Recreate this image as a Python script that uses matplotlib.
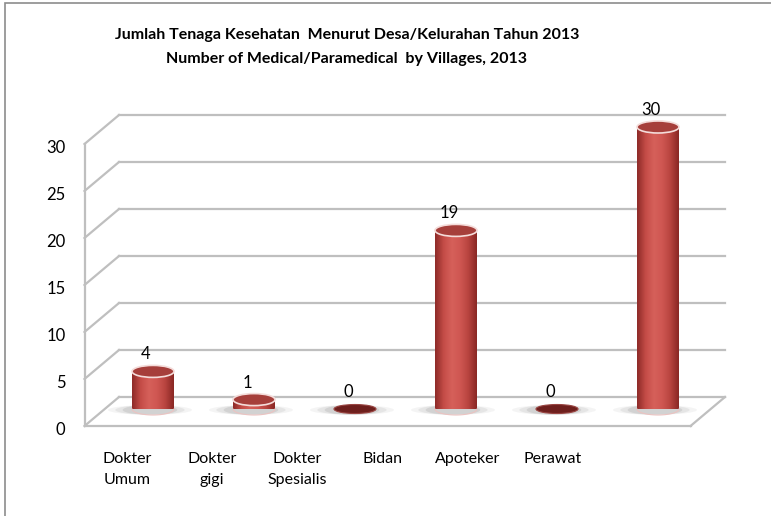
import numpy as np
import matplotlib
matplotlib.use("Agg")
import matplotlib.pyplot as plt
from matplotlib.patches import Ellipse, Polygon, Rectangle
from matplotlib.colors import LinearSegmentedColormap

# ===== DATA =====
categories = ["Dokter\nUmum", "Dokter\ngigi", "Dokter\nSpesialis", "Bidan", "Apoteker", "Perawat"]
values = [4, 1, 0, 19, 0, 30]
y_ticks = [0, 5, 10, 15, 20, 25, 30]
title_1 = "Jumlah Tenaga Kesehatan  Menurut Desa/Kelurahan Tahun 2013"
title_2 = "Number of Medical/Paramedical  by Villages, 2013"

plt.rcParams['font.family'] = ['Lato', 'DejaVu Sans']

W, H = 771, 516
fig = plt.figure(figsize=(W / 100, H / 100), dpi=100)

# the axes is the plane the cylinders stand in (middle of the 3D box)
ax = fig.add_axes([102.5 / W, (H - 409) / H, 606 / W, 282 / H])
ax.axis('off')

px_x = 606 / 6    # pixels per category
px_y = 282 / 30   # pixels per value unit

# depth offsets of back wall / front edge, in data units
bdx, bdy = 16.5 / px_x, 12 / px_y
fdx, fdy = -18.0 / px_x, -17 / px_y
grid_c = '#BFBFBF'
x0, x1 = -0.5, len(values) - 0.5

# ===== WALLS / GRID =====
for v in y_ticks:
    ax.plot([x0 + bdx, x1 + bdx], [v + bdy] * 2, color=grid_c, lw=1.6, clip_on=False, zorder=1)
    ax.plot([x0 + fdx, x0 + bdx], [v + fdy, v + bdy], color=grid_c, lw=1.6, clip_on=False, zorder=1)
    ax.annotate(str(v), xy=(x0 + fdx, v + fdy), xytext=(-19, -4), textcoords='offset pixels',
                ha='right', va='center', fontsize=12, color='black', annotation_clip=False)

# front axis line + floor edges
ax.plot([x0 + fdx] * 2, [fdy, y_ticks[-1] + fdy], color=grid_c, lw=1.6, clip_on=False, zorder=1)
ax.plot([x0 + fdx, x1 + fdx], [fdy] * 2, color=grid_c, lw=1.6, clip_on=False, zorder=1)
ax.plot([x1 + fdx, x1 + bdx], [fdy, bdy], color=grid_c, lw=1.6, clip_on=False, zorder=1)

# ===== CYLINDERS =====
w = 42 / px_x
eh = 12 / px_y
cmap = LinearSegmentedColormap.from_list(
    'cyl', ['#8E2B28', '#C44C47', '#D6605A', '#CF5752', '#B8443F', '#8A2724'])
grad = np.linspace(0, 1, 64)[None, :]
t = np.linspace(np.pi, 2 * np.pi, 40)

for i, v in enumerate(values):
    # soft shadow on the floor
    for k, a in [(2.0, 0.08), (1.65, 0.12), (1.3, 0.18)]:
        ax.add_patch(Ellipse((i - 0.03, -0.1), w * k, eh * 0.8, facecolor='#7F7F7F',
                             edgecolor='none', alpha=a, clip_on=False, zorder=2))
    if v > 0:
        xs = np.concatenate([[i - w / 2, i - w / 2], i + w / 2 * np.cos(t), [i + w / 2, i + w / 2]])
        ys = np.concatenate([[v, 0], eh / 2 * np.sin(t), [0, v]])
        body = Polygon(np.column_stack([xs, ys]), closed=True, facecolor='none',
                       edgecolor='none', clip_on=False)
        ax.add_patch(body)
        im = ax.imshow(grad, cmap=cmap, extent=[i - w / 2, i + w / 2, -eh / 2, v],
                       aspect='auto', zorder=3, interpolation='bicubic')
        im.set_clip_path(body)
        ax.plot(i + w / 2 * np.cos(t), eh / 2 * np.sin(t), color='#EBC3C1', lw=0.8,
                clip_on=False, zorder=4)
        ax.add_patch(Ellipse((i, v), w, eh, facecolor='#A63F3B', edgecolor='#F4DCDA',
                             lw=1.2, clip_on=False, zorder=5))
    else:
        ax.add_patch(Ellipse((i, v), w, eh * 0.75, facecolor='#6E1F1D', edgecolor='#9A4542',
                             lw=0.8, clip_on=False, zorder=5))
    ax.annotate(str(v), xy=(i, v), xytext=(-7, 17), textcoords='offset pixels',
                ha='center', va='center', fontsize=12, color='black', annotation_clip=False)

# ===== CATEGORY LABELS =====
label_x = np.linspace(-0.257, -0.257 + 0.842 * 5, len(categories))
for lx, lab in zip(label_x, categories):
    ax.text(lx, -43 / px_y, lab, ha='center', va='top', multialignment='center',
            fontsize=11.5, linespacing=1.65, color='black')

ax.set_xlim(x0, x1)
ax.set_ylim(0, 30)

# ===== TITLE =====
fig.text(347 / W, 1 - 35 / H, title_1, ha='center', va='center', fontsize=11.5, fontweight='bold')
fig.text(347 / W, 1 - 59 / H, title_2, ha='center', va='center', fontsize=11.5, fontweight='bold')

# chart area border (only top and left fall inside the picture)
fig.patches.append(Rectangle((5 / W, -0.1), 2, 1.1 - 3 / H, transform=fig.transFigure,
                             fill=False, edgecolor='#8C8C8C', lw=1.2))

fig.savefig("out.png", dpi=100)
